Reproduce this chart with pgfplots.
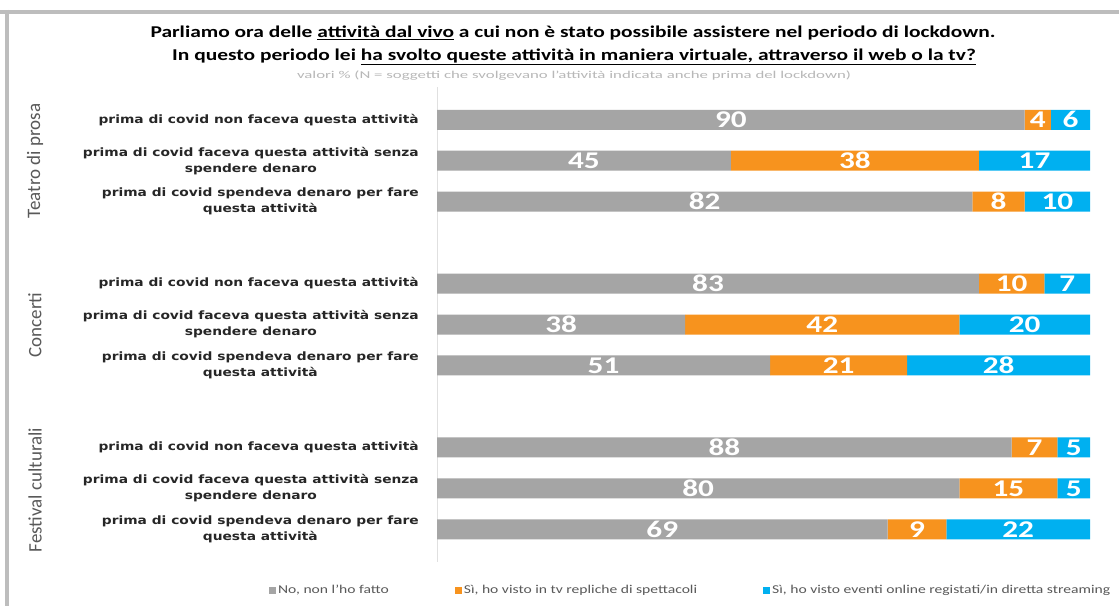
\documentclass[border=0pt]{standalone}
\usepackage{pgfplots}
\usepackage{pgfplotstable}
\pgfplotsset{compat=1.18}
\usepackage{fontspec}
\setmainfont{Carlito}
\newfontfamily\deja{DejaVu Sans}
\definecolor{cgray}{HTML}{A5A5A5}
\definecolor{corange}{HTML}{F7931E}
\definecolor{cblue}{HTML}{00B0F0}
\definecolor{txtgray}{HTML}{595959}
\definecolor{frame}{HTML}{BDBDBD}

\pgfplotstableread{
y no tv web
0 90 4 6
1 45 38 17
2 82 8 10
4 83 10 7
5 38 42 20
6 51 21 28
8 88 7 5
9 80 15 5
10 69 9 22
}\datatab

\pgfplotstableread{
x y l
45 0 90
92 0 4
97 0 6
22.5 1 45
64 1 38
91.5 1 17
41 2 82
86 2 8
95 2 10
41.5 4 83
88 4 10
96.5 4 7
19 5 38
59 5 42
90 5 20
25.5 6 51
61.5 6 21
86 6 28
44 8 88
91.5 8 7
97.5 8 5
40 9 80
87.5 9 15
97.5 9 5
34.5 10 69
73.5 10 9
89 10 22
}\labtab

\begin{document}
\begin{tikzpicture}
\useasboundingbox (0,0) rectangle (1119pt,606pt);
\fill[white] (0,0) rectangle (1119pt,606pt);
% frame
\draw[frame, line width=4pt] (0,594pt) -- (1119pt,594pt);
\draw[frame, line width=4pt] (7pt,596pt) -- (7pt,0);
% titles
\node[font=\fontsize{16.5}{19}\selectfont\bfseries, anchor=center, xscale=1.3] at (573pt,573pt)
  {Parliamo ora delle \underline{attività dal vivo} a cui non è stato possibile assistere nel periodo di lockdown.};
\node[font=\fontsize{16.5}{19}\selectfont\bfseries, anchor=center, xscale=1.3] at (574pt,549pt)
  {In questo periodo lei \underline{ha svolto queste attività in maniera virtuale, attraverso il web o la tv?}};
\node[font=\fontsize{10.5}{12}\selectfont, text=black!28, anchor=center, xscale=1.6] at (574pt,530pt)
  {valori \% (N = soggetti che svolgevano l'attività indicata anche prima del lockdown)};
% group labels
\node[rotate=90, font=\fontsize{19}{21}\selectfont, text=txtgray] at (35pt,445pt) {Teatro di prosa};
\node[rotate=90, font=\fontsize{19}{21}\selectfont, text=txtgray] at (35pt,281pt) {Concerti};
\node[rotate=90, font=\fontsize{19}{21}\selectfont, text=txtgray] at (35pt,116pt) {Festival culturali};

\begin{axis}[
  at={(437pt,44pt)}, anchor=south west,
  scale only axis, width=653pt, height=475pt,
  xbar stacked, bar width=20pt,
  xmin=0, xmax=100, ymin=-0.8, ymax=10.8, y dir=reverse,
  hide x axis,
  axis y line*=left,
  y axis line style={draw=black!12},
  major tick length=0pt,
  ytick={0,1,2,4,5,6,8,9,10},
  yticklabels={
    prima di covid non faceva questa attività,
    prima di covid faceva questa attività senza\\spendere denaro,
    prima di covid spendeva denaro per fare\\questa attività,
    prima di covid non faceva questa attività,
    prima di covid faceva questa attività senza\\spendere denaro,
    prima di covid spendeva denaro per fare\\questa attività,
    prima di covid non faceva questa attività,
    prima di covid faceva questa attività senza\\spendere denaro,
    prima di covid spendeva denaro per fare\\questa attività},
  yticklabel style={font=\deja\bfseries\fontsize{11.5}{16}\selectfont, align=center, text=black!85, xshift=-14pt, xscale=1.2},
  legend columns=3,
  legend style={at={(-0.262,-0.059)}, anchor=west, draw=none, fill=none,
    font=\fontsize{12}{14}\selectfont, text=txtgray,
    /tikz/every even column/.append style={column sep=64pt}},
  legend image code/.code={\fill[#1] (0pt,-3.5pt) rectangle (7pt,3.5pt);},
]
\addplot[fill=cgray, draw=none] table[x=no, y=y] {\datatab};
\addlegendentry{\scalebox{1.3}[1]{No, non l'ho fatto}}
\addplot[fill=corange, draw=none] table[x=tv, y=y] {\datatab};
\addlegendentry{\scalebox{1.3}[1]{Sì, ho visto in tv repliche di spettacoli}}
\addplot[fill=cblue, draw=none] table[x=web, y=y] {\datatab};
\addlegendentry{\scalebox{1.3}[1]{Sì, ho visto eventi online registati/in diretta streaming}}
\end{axis}

\begin{axis}[
  at={(437pt,44pt)}, anchor=south west,
  scale only axis, width=653pt, height=475pt,
  xmin=0, xmax=100, ymin=-0.8, ymax=10.8, y dir=reverse,
  hide axis,
]
\addplot[draw=none, mark=none, nodes near coords, point meta=explicit symbolic,
  nodes near coords style={anchor=center, text=white, xscale=1.3, font=\bfseries\fontsize{24}{24}\selectfont}]
  table[x=x, y=y, meta=l] {\labtab};
\end{axis}
\end{tikzpicture}
\end{document}
